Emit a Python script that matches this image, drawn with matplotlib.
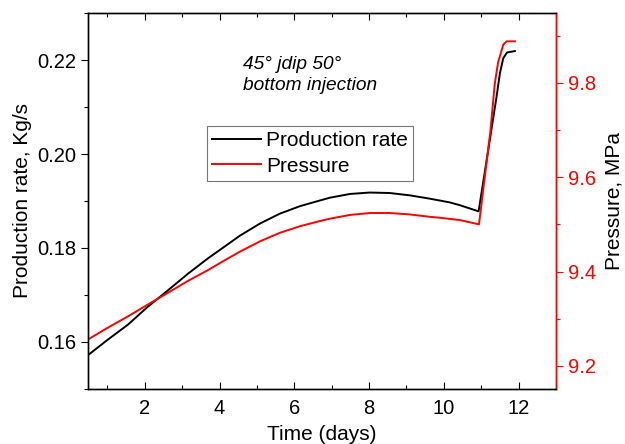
import matplotlib.pyplot as plt
from matplotlib.ticker import MultipleLocator

plt.rcParams['font.family'] = ['Liberation Sans', 'DejaVu Sans']

# production rate (kg/s) vs time
t_rate = [0.48, 1.01, 1.55, 2.08, 2.62, 3.15, 3.69, 4.01, 4.54, 5.08, 5.61, 6.15, 6.68,
          6.95, 7.49, 8.02, 8.55, 9.09, 9.62, 10.16, 10.43, 10.93,
          11.27, 11.41, 11.50, 11.59, 11.69, 11.90]
rate = [0.1572, 0.1605, 0.1637, 0.1675, 0.1710, 0.1745, 0.1778, 0.1796, 0.1826, 0.1852,
        0.1873, 0.1889, 0.1901, 0.1907, 0.1915, 0.1918, 0.1917, 0.1912, 0.1905, 0.1897,
        0.1891, 0.1878, 0.2051, 0.2122, 0.2172, 0.2204, 0.2216, 0.2219]

# pressure (MPa) vs time
t_pres = [0.48, 1.01, 1.55, 2.08, 2.62, 3.15, 3.69, 4.01, 4.54, 5.08, 5.61, 6.15, 6.68,
          6.95, 7.49, 8.02, 8.55, 9.09, 9.62, 9.89, 10.43, 10.94,
          11.25, 11.36, 11.45, 11.59, 11.68, 11.90]
pressure = [9.256, 9.281, 9.305, 9.330, 9.355, 9.380, 9.403, 9.418, 9.442, 9.464, 9.482,
            9.496, 9.507, 9.512, 9.520, 9.524, 9.524, 9.521, 9.516, 9.514, 9.509, 9.500,
            9.701, 9.797, 9.843, 9.881, 9.888, 9.888]

fig = plt.figure(figsize=(6.25, 4.44), dpi=100)
ax = fig.add_axes([0.1408, 0.1239, 0.7488, 0.8468])
ax2 = ax.twinx()

l1, = ax.plot(t_rate, rate, color='black', lw=1.4, label='Production rate')
l2, = ax2.plot(t_pres, pressure, color='#ff0000', lw=1.4, label='Pressure')

ax.set_xlim(0.48, 13.0)
ax.set_ylim(0.15, 0.23)
ax2.set_ylim(9.151, 9.948)

ax.xaxis.set_major_locator(MultipleLocator(2))
ax.xaxis.set_minor_locator(MultipleLocator(1))
ax.yaxis.set_major_locator(MultipleLocator(0.02))
ax.yaxis.set_minor_locator(MultipleLocator(0.01))
ax2.yaxis.set_major_locator(MultipleLocator(0.2))
ax2.yaxis.set_minor_locator(MultipleLocator(0.1))
ax.yaxis.set_major_formatter(plt.FormatStrFormatter('%.2f'))
ax2.yaxis.set_major_formatter(plt.FormatStrFormatter('%.1f'))

ax.tick_params(axis='x', which='both', direction='in', top=True, labelsize=14.5, pad=7)
ax.tick_params(axis='x', which='major', length=5, width=0.8)
ax.tick_params(axis='x', which='minor', length=3, width=0.8)
ax.tick_params(axis='y', which='both', direction='out', labelsize=14.5)
ax.tick_params(axis='y', which='major', length=5, width=0.8)
ax.tick_params(axis='y', which='minor', length=3, width=0.8)

ax2.tick_params(axis='y', which='both', direction='out', colors='#ff0000', labelsize=14.5)
ax2.tick_params(axis='y', which='major', length=5, width=0.8)
ax2.tick_params(axis='y', which='minor', length=3, width=0.8)

for sp in ax.spines.values():
    sp.set_linewidth(1.0)
    sp.set_color('#222222')
for sp in ax2.spines.values():
    sp.set_linewidth(1.0)
ax2.spines['right'].set_color('#ff0000')

ax.set_xlabel('Time (days)', fontsize=15, labelpad=5)
ax.set_ylabel('Production rate, Kg/s', fontsize=15, labelpad=4)
ax2.set_ylabel('Pressure, MPa', fontsize=15, labelpad=6)

ax.text(0.331, 0.885, '45° jdip 50°\nbottom injection', transform=ax.transAxes,
        fontsize=13.8, style='italic', va='top', ha='left', linespacing=1.3)

leg = ax.legend(handles=[l1, l2], loc='upper left', bbox_to_anchor=(0.254, 0.699),
                fontsize=15, frameon=True, fancybox=False, handlelength=2.35,
                handletextpad=0.25, borderpad=0.25, labelspacing=0.3, borderaxespad=0)
leg.get_frame().set_edgecolor('#555555')
leg.get_frame().set_linewidth(0.8)

fig.savefig('out.png', dpi=100)
